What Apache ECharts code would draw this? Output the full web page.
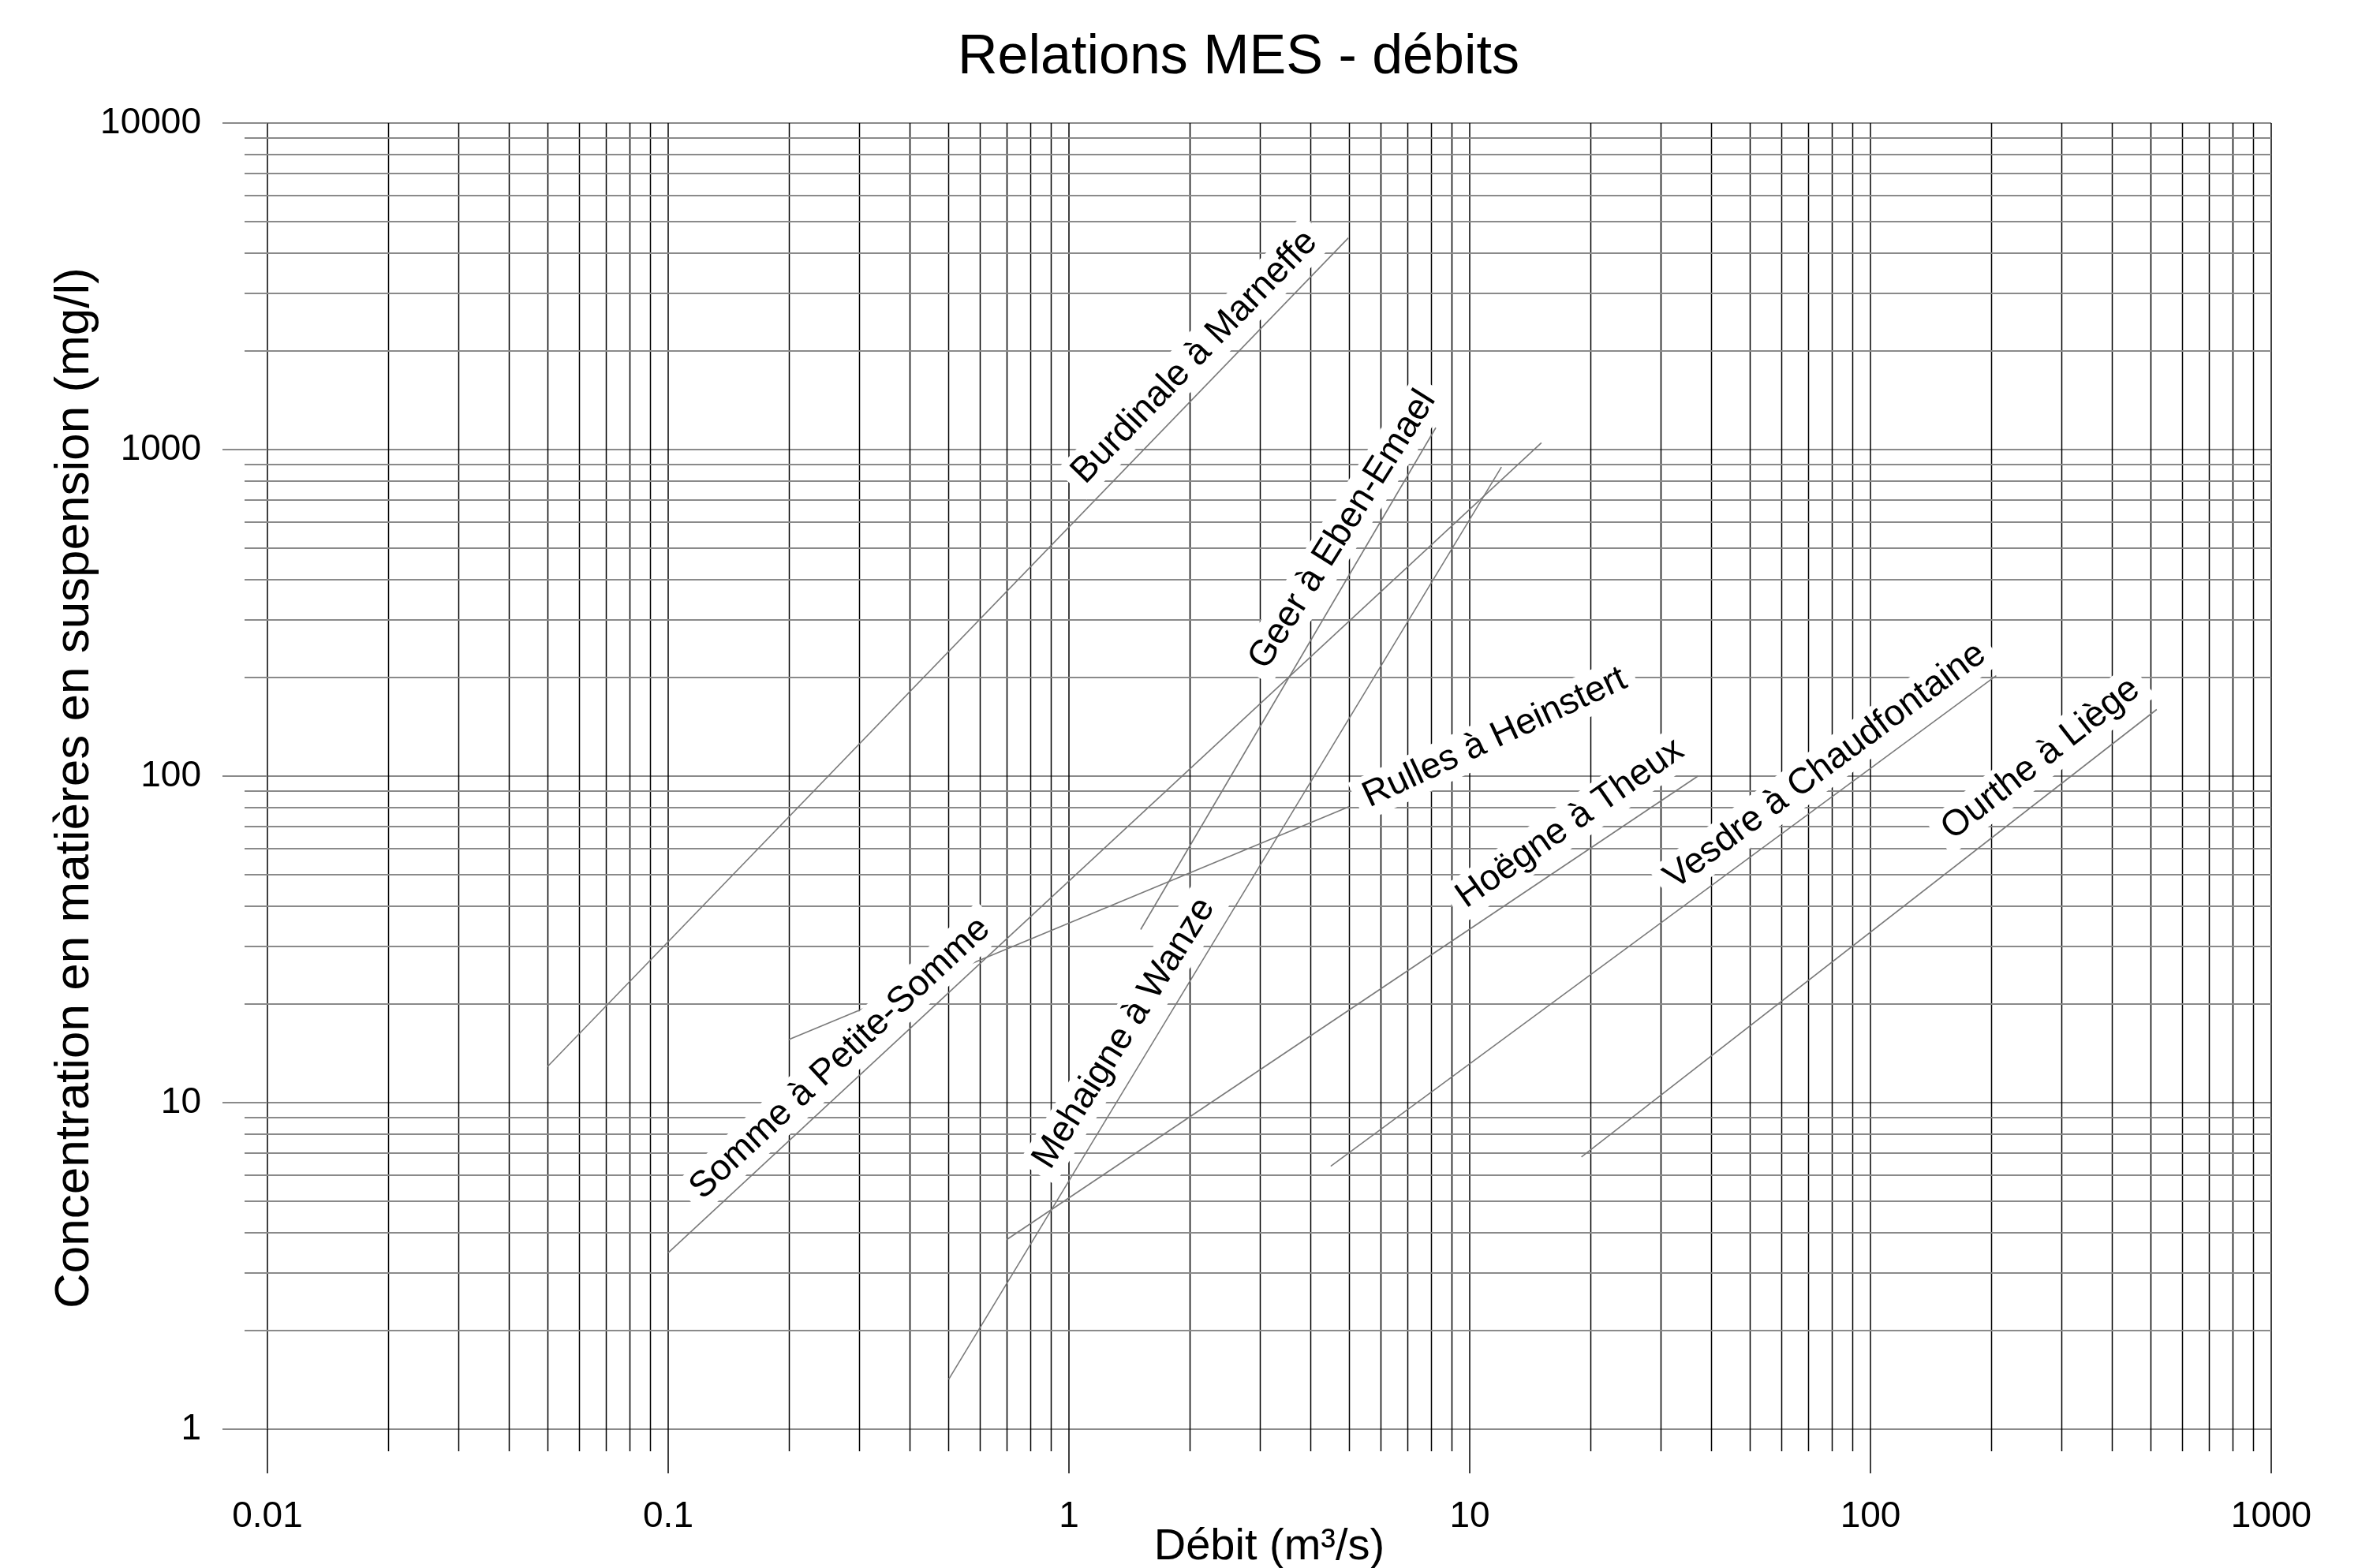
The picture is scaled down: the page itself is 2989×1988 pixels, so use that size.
<!DOCTYPE html>
<html>
<head>
<meta charset="utf-8">
<script src="https://cdn.jsdelivr.net/npm/echarts@6/dist/echarts.min.js"></script>
<style>
html,body{margin:0;padding:0;background:#fff;}
#chart{width:2989px;height:1988px;}
</style>
</head>
<body>
<div id="chart"></div>
<script>
// ---- axis ticks ----
const xTickValues = [0.01, 0.1, 1, 10, 100, 1000];
const xTickLabels = ['0.01', '0.1', '1', '10', '100', '1000'];
const yTickValues = [1, 10, 100, 1000, 10000];
const yTickLabels = ['1', '10', '100', '1000', '10000'];
const minorMultipliers = [2, 3, 4, 5, 6, 7, 8, 9];

// ---- series (débit m3/s, MES mg/l) ----
const riverNames = [
  'Burdinale à Marneffe',
  'Geer à Eben-Emael',
  'Mehaigne à Wanze',
  'Somme à Petite-Somme',
  'Rulles à Heinstert',
  'Hoëgne à Theux',
  'Vesdre à Chaudfontaine',
  'Ourthe à Liège'
];
const burdinale = [[0.05, 12.9], [4.98, 4450]];
const geer      = [[1.51, 33.9], [8.23, 1167]];
const mehaigne  = [[0.501, 1.42], [12.0, 884]];
const somme     = [[0.1, 3.47], [15.1, 1049]];
const rulles    = [[0.2, 15.6], [5.0, 80.6]];
const hoegne    = [[0.7, 3.81], [37.1, 100]];
const vesdre    = [[4.5, 6.39], [206, 203]];
const ourthe    = [[19.0, 6.82], [518, 160]];
const seriesData = [burdinale, geer, mehaigne, somme, rulles, hoegne, vesdre, ourthe];

// ---- label placement (data-space anchor of label centre, rotation deg) ----
const labelLayout = [
  {at: [2.06, 1919], rotate: 46},
  {at: [4.82, 568], rotate: 58},
  {at: [1.373, 16.3], rotate: 58},
  {at: [0.2686, 13.67], rotate: 43},
  {at: [11.56, 131], rotate: 25},
  {at: [17.8, 71.6], rotate: 35},
  {at: [77.2, 107.4], rotate: 36.5},
  {at: [266, 112.9], rotate: 38}
];

const FONT = '"Liberation Sans", Arial, Helvetica, sans-serif';
const X_MIN = xTickValues[0], X_MAX = xTickValues[xTickValues.length - 1];
const Y_MIN = yTickValues[0], Y_MAX = yTickValues[yTickValues.length - 1];

const xMinorValues = [];
for (let i = 0; i < xTickValues.length - 1; i++)
  minorMultipliers.forEach(m => xMinorValues.push(m * xTickValues[i]));
const yMinorValues = [];
for (let i = 0; i < yTickValues.length - 1; i++)
  minorMultipliers.forEach(m => yMinorValues.push(m * yTickValues[i]));

function tickLabel(values, labels, v) {
  const lv = Math.log10(v);
  for (let i = 0; i < values.length; i++) {
    if (Math.abs(Math.log10(values[i]) - lv) < 1e-6) return labels[i];
  }
  return '';
}

const H_COLOR = '#8a8a8a';
const V_COLOR = '#000';
const V_WIDTH = 1.5;
const LINE_COLOR = '#7a7a7a';

const series = [];

// minor vertical grid lines (with short ticks below the axis)
series.push({
  type: 'custom',
  coordinateSystem: 'cartesian2d',
  silent: true,
  z: 1,
  data: xMinorValues.map(v => [v, Y_MIN]),
  renderItem: function (params, api) {
    const v = api.value(0);
    const a = api.coord([v, Y_MAX]);
    const b = api.coord([v, Y_MIN]);
    const x = Math.round(a[0]) + 0.5;
    return {type: 'line', shape: {x1: x, y1: a[1], x2: x, y2: b[1] + 28},
      style: {stroke: V_COLOR, lineWidth: V_WIDTH}};
  }
});
// minor horizontal grid lines (with short ticks left of the axis)
series.push({
  type: 'custom',
  coordinateSystem: 'cartesian2d',
  silent: true,
  z: 1,
  data: yMinorValues.map(v => [X_MIN, v]),
  renderItem: function (params, api) {
    const v = api.value(1);
    const a = api.coord([X_MIN, v]);
    const b = api.coord([X_MAX, v]);
    const y = Math.round(a[1]);
    return {type: 'line', shape: {x1: a[0] - 29, y1: y, x2: b[0], y2: y},
      style: {stroke: H_COLOR, lineWidth: 2}};
  }
});

seriesData.forEach((d, i) => {
  series.push({
    type: 'line',
    name: riverNames[i],
    data: d,
    showSymbol: false,
    symbol: 'none',
    silent: true,
    z: 3,
    lineStyle: {color: LINE_COLOR, width: 1.6}
  });
});

// labels with white backgrounds
series.push({
  type: 'custom',
  coordinateSystem: 'cartesian2d',
  silent: true,
  z: 10,
  data: labelLayout.map(l => l.at),
  renderItem: function (params, api) {
    const i = params.dataIndex;
    const p = api.coord([api.value(0), api.value(1)]);
    return {
      type: 'text',
      x: p[0], y: p[1],
      rotation: labelLayout[i].rotate * Math.PI / 180,
      style: {
        text: riverNames[i],
        font: '46px ' + FONT,
        fill: '#000',
        align: 'center',
        verticalAlign: 'middle',
        backgroundColor: '#fff',
        padding: [4, 12]
      }
    };
  }
});

const chart = echarts.init(document.getElementById('chart'), null, {renderer: 'canvas'});
chart.setOption({
  animation: false,
  backgroundColor: '#fff',
  textStyle: {fontFamily: FONT},
  graphic: [{
    type: 'text',
    x: 1570, y: 74,
    z: 20,
    style: {text: 'Relations MES - débits', font: '70px ' + FONT, fill: '#000',
      align: 'center', verticalAlign: 'middle'}
  }, {
    type: 'text',
    x: 95, y: 999,
    rotation: Math.PI / 2,
    z: 20,
    style: {text: 'Concentration en matières en suspension (mg/l)', font: '62px ' + FONT, fill: '#000',
      align: 'center', verticalAlign: 'middle'}
  }, {
    type: 'text',
    x: 1609, y: 1962,
    z: 20,
    style: {text: 'Débit (m³/s)', font: '56px ' + FONT, fill: '#000',
      align: 'center', verticalAlign: 'middle'}
  }],
  grid: {left: 339, right: 110, top: 156, bottom: 176, containLabel: false, outerBoundsMode: 'none'},
  xAxis: {
    type: 'log', logBase: 10, min: X_MIN, max: X_MAX,
    axisLine: {show: false},
    axisTick: {show: true, length: 56, lineStyle: {color: V_COLOR, width: V_WIDTH}},
    axisLabel: {show: true, margin: 88, fontSize: 46, color: '#000', fontFamily: FONT,
      formatter: v => tickLabel(xTickValues, xTickLabels, v)},
    splitLine: {show: true, lineStyle: {color: V_COLOR, width: V_WIDTH}},
    minorTick: {show: false}, minorSplitLine: {show: false}
  },
  yAxis: {
    type: 'log', logBase: 10, min: Y_MIN, max: Y_MAX,
    axisLine: {show: false},
    axisTick: {show: true, length: 57, lineStyle: {color: H_COLOR, width: 2}},
    axisLabel: {show: true, margin: 84, fontSize: 46, color: '#000', fontFamily: FONT,
      formatter: v => tickLabel(yTickValues, yTickLabels, v)},
    splitLine: {show: true, lineStyle: {color: H_COLOR, width: 2}},
    minorTick: {show: false}, minorSplitLine: {show: false}
  },
  series: series
});
</script>
</body>
</html>
